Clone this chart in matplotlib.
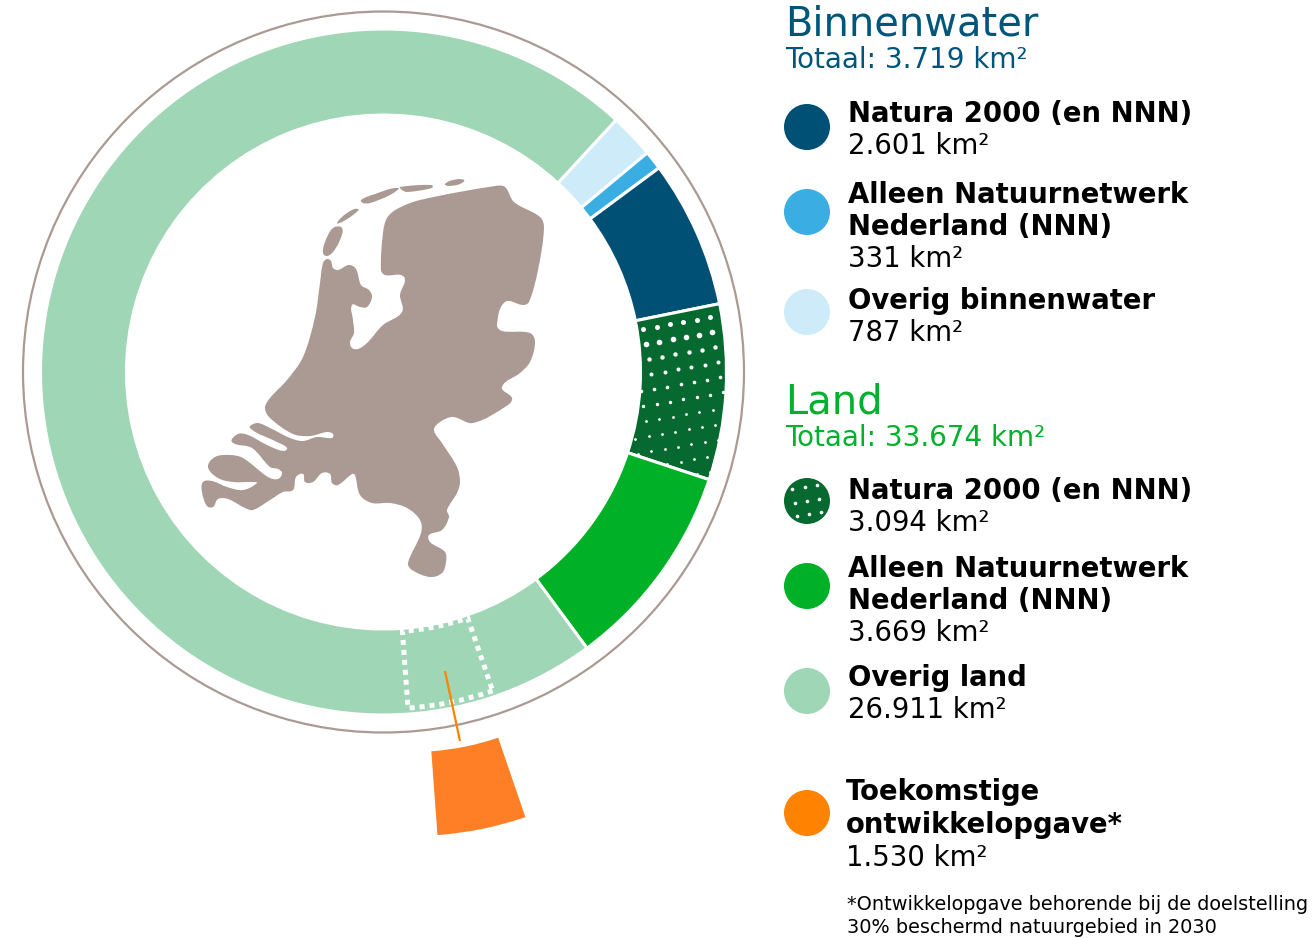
import numpy as np
import matplotlib
matplotlib.use("Agg")
import matplotlib.pyplot as plt
from matplotlib.patches import Wedge, Circle, PathPatch
from matplotlib.path import Path

# km2 per category, clockwise on the ring
categories = ["Overig binnenwater", "Alleen NNN water", "Natura 2000 water",
              "Natura 2000 land", "Alleen NNN land", "Overig land"]
areas = [787, 331, 2601, 3094, 3669, 26911]
ring_colors = ["#cdebf9", "#3aaee3", "#004f75", "#06692f", "#00b026", "#9fd6b6"]
opgave = 1530

# legend texts
titles = [("Binnenwater", "Totaal: 3.719 km²", "#00567a", 785, 35, 68),
          ("Land", "Totaal: 33.674 km²", "#00b12c", 785, 413, 446)]
legend_labels = [["Natura 2000 (en NNN)"],
                 ["Alleen Natuurnetwerk", "Nederland (NNN)"],
                 ["Overig binnenwater"],
                 ["Natura 2000 (en NNN)"],
                 ["Alleen Natuurnetwerk", "Nederland (NNN)"],
                 ["Overig land"],
                 ["Toekomstige", "ontwikkelopgave*"]]
legend_values = ["2.601 km²", "331 km²", "787 km²", "3.094 km²", "3.669 km²", "26.911 km²", "1.530 km²"]
legend_colors = ["#004f75", "#3aaee3", "#cdebf9", "#06692f", "#00b026", "#9fd6b6", "#ff8200"]
footnote = ["*Ontwikkelopgave behorende bij de doelstelling", "30% beschermd natuurgebied in 2030"]

# outline of the Netherlands, traced in image pixels
mainland = [(327,259),(331,261),(333,268),(338,270),(349,265),(356,269),(361,285),(369,290),(372,297),
            (367,307),(360,307),(352,305),(353,320),(354,333),(350,342),(352,348),(358,349),(367,343),
            (383,325),(402,312),(400,295),(404,277),(385,275),(381,270),(383,233),(387,218),(397,209),
            (420,200),(495,186),(505,187),(514,202),(540,217),(544,228),(538,270),(529,302),(523,305),
            (505,302),(497,325),(502,331),(530,333),(535,342),(530,362),(520,373),(502,387),(512,398),
            (508,405),(473,423),(453,417),(440,422),(434,430),(442,443),(457,467),(460,482),(457,493),
            (447,510),(449,517),(442,530),(429,535),(430,542),(445,552),(446,562),(442,573),(430,577),
            (412,570),(408,563),(421,533),(420,520),(407,508),(390,503),(372,503),(360,495),(355,475),
            (352,474),(338,485),(332,483),(330,474),(322,473),(313,482),(305,482),(303,474),(296,477),
            (293,490),(283,492),(270,500),(253,510),(245,508),(228,499),(218,499),(213,507),(207,506),
            (202,492),(203,482),(212,481),(227,487),(243,490),(257,483),(252,482),(233,482),(218,478),
            (208,467),(215,457),(230,455),(243,458),(268,477),(278,479),(282,473),(278,469),(270,467),
            (252,448),(232,442),(238,434),(248,435),(267,445),(283,451),(287,448),(277,442),(250,428),
            (257,423),(270,428),(290,438),(303,441),(317,437),(332,438),(333,434),(327,432),(310,436),
            (293,434),(270,418),(265,408),(270,398),(287,380),(303,357),(315,317),(320,283),(323,263)]
islands = [[(323,253),(325,242),(333,228),(342,228),(340,240),(333,252),(327,256)],
           [(337,223),(347,213),(358,209),(353,215),(342,222)],
           [(361,200),(375,194),(398,188),(390,195),(370,203),(363,203)],
           [(400,187),(432,185),(432,188),(407,192),(402,190)],
           [(445,184),(453,180),(464,180),(460,184),(448,186)]]


def smooth_path(points):
    # closed spline through the traced points, handles limited to chord length
    p = np.array(points, dtype=float)
    n = len(p)
    verts = [p[0]]
    codes = [Path.MOVETO]
    for i in range(n):
        p0, p1, p2, p3 = p[i - 1], p[i], p[(i + 1) % n], p[(i + 2) % n]
        chord = np.linalg.norm(p2 - p1)
        t1 = (p2 - p0) / np.linalg.norm(p2 - p0)
        t2 = (p3 - p1) / np.linalg.norm(p3 - p1)
        verts += [p1 + t1 * chord / 3, p2 - t2 * chord / 3, p2]
        codes += [Path.CURVE4] * 3
    return Path(verts, codes)


def dots(ax, x0, y0, u, v, rows, cols, sizes, clip):
    # white dot pattern, clipped to its patch
    for r in range(rows):
        for c in range(-2, cols):
            x = x0 + c * u[0] + r * v[0]
            y = y0 + c * u[1] + r * v[1]
            d = sizes[min(r, len(sizes) - 1)]
            s = ax.scatter([x], [y], s=(d * 0.72) ** 2, color="white", linewidths=0, zorder=4)
            s.set_clip_path(clip)


fig = plt.figure(figsize=(13.16, 9.38), dpi=100)
ax = fig.add_axes([0, 0, 1, 1])
ax.set_xlim(0, 1316)
ax.set_ylim(938, 0)
ax.axis("off")

cx, cy = 383.5, 372
r_out, r_in = 342, 258
start = 42.7  # degrees clockwise from the top

ax.add_patch(Circle((cx, cy), 360.5, fc="none", ec="#ab9a93", lw=1.6))

total = sum(areas)
angle = start
dotted_wedge = None
for name, area, col in zip(categories, areas, ring_colors):
    sweep = area / total * 360
    w = Wedge((cx, cy), r_out + 1, angle - 90, angle + sweep - 90, width=r_out - r_in + 2,
              fc=col, ec="white", lw=2.2, zorder=2)
    ax.add_patch(w)
    if name == "Natura 2000 land":
        dotted_wedge = w
    angle += sweep

dots(ax, 643.3, 329, (13.3, -2.3), (2.67, 15), 11, 8, [5, 5.6, 4.4, 4, 3.6, 3.4, 2.8], dotted_wedge)

# part of overig land that becomes the opgave
op_start = 161.1
op_sweep = opgave / total * 360
ax.add_patch(Wedge((cx, cy), 337, op_start - 90, op_start + op_sweep - 90, width=77,
                   fc="none", ec="white", lw=3.6, ls=(0, (1.0, 1.0)), zorder=3))

# same wedge pulled out of the ring
ox, oy = cx + 28.5, cy + 114
ax.add_patch(Wedge((ox, oy), 350, op_start - 90, op_start + op_sweep - 90, width=84,
                   fc="#ff7f27", ec="none", zorder=3))
ax.plot([445, 460], [671, 741], color="#ff8200", lw=1.6, zorder=5, solid_capstyle="butt")

# map
ax.add_patch(PathPatch(smooth_path(mainland), fc="#ab9a93", ec="none", zorder=2))
for isl in islands:
    ax.add_patch(PathPatch(smooth_path(isl), fc="#ab9a93", ec="none", zorder=2))

# headings
for big, small, col, x, y1, y2 in titles:
    ax.text(x, y1, big, color=col, fontsize=28.8, va="baseline", ha="left")
    ax.text(x, y2, small, color=col, fontsize=20, va="baseline", ha="left")

# legend
circle_y = [127, 212, 312, 501, 586, 691, 813]
first_base = [122, 203, 309, 499, 577, 686, 800]
line_h = 32
for i in range(7):
    circ = Circle((807, circle_y[i]), 23, fc=legend_colors[i], ec="none")
    ax.add_patch(circ)
    if i == 3:
        dots(ax, 792.3, 489, (12.2, -2), (2.3, 13.7), 3, 3, [3.6], circ)
    x = 846 if i == 6 else 848
    y = first_base[i]
    for line in legend_labels[i]:
        ax.text(x, y, line, fontsize=19.8, fontweight="bold", color="black", va="baseline")
        y += line_h + (1 if i == 6 else 0)
    ax.text(x, y, legend_values[i], fontsize=19.8, color="black", va="baseline")

ax.text(847, 910, footnote[0], fontsize=13.9, color="black", va="baseline")
ax.text(847, 933, footnote[1], fontsize=13.9, color="black", va="baseline")

fig.savefig("out.png", dpi=100, facecolor="white")
